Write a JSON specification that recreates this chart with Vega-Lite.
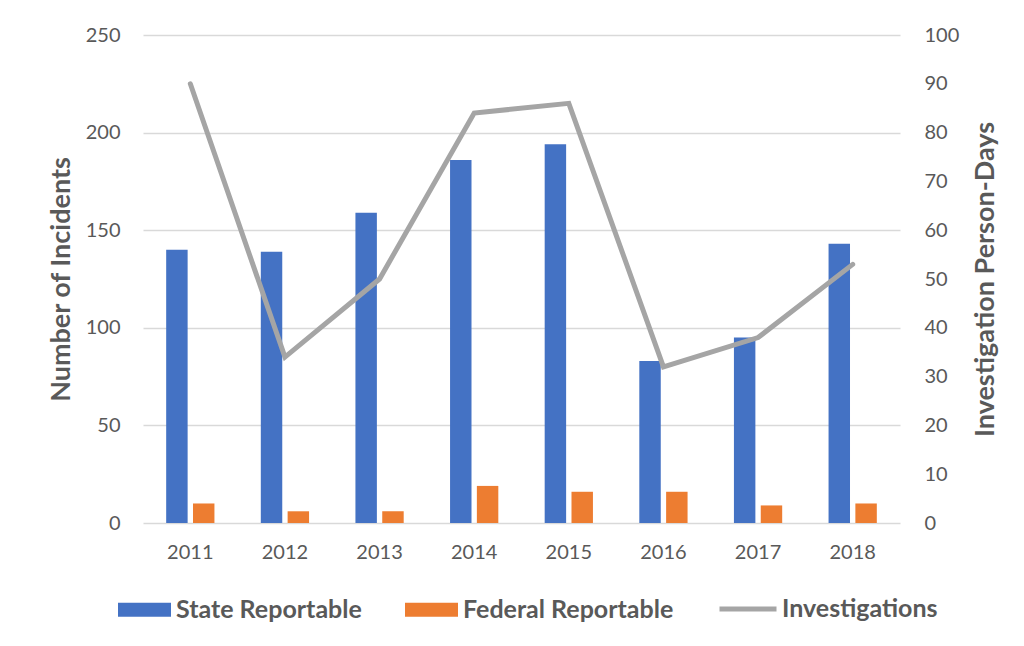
{
  "$schema": "https://vega.github.io/schema/vega-lite/v6.json",
  "autosize": {"type": "none"},
  "width": 757,
  "height": 488,
  "padding": {"left": 143, "top": 35, "right": 124, "bottom": 123},
  "background": "white",
  "config": {
    "font": "Lato",
    "view": {"stroke": null}
  },
  "datasets": {
    "incidents": [
      {"year": "2011", "series": "State Reportable", "count": 140},
      {"year": "2011", "series": "Federal Reportable", "count": 10},
      {"year": "2012", "series": "State Reportable", "count": 139},
      {"year": "2012", "series": "Federal Reportable", "count": 6},
      {"year": "2013", "series": "State Reportable", "count": 159},
      {"year": "2013", "series": "Federal Reportable", "count": 6},
      {"year": "2014", "series": "State Reportable", "count": 186},
      {"year": "2014", "series": "Federal Reportable", "count": 19},
      {"year": "2015", "series": "State Reportable", "count": 194},
      {"year": "2015", "series": "Federal Reportable", "count": 16},
      {"year": "2016", "series": "State Reportable", "count": 83},
      {"year": "2016", "series": "Federal Reportable", "count": 16},
      {"year": "2017", "series": "State Reportable", "count": 95},
      {"year": "2017", "series": "Federal Reportable", "count": 9},
      {"year": "2018", "series": "State Reportable", "count": 143},
      {"year": "2018", "series": "Federal Reportable", "count": 10}
    ],
    "investigations": [
      {"year": "2011", "days": 90},
      {"year": "2012", "days": 34},
      {"year": "2013", "days": 50},
      {"year": "2014", "days": 84},
      {"year": "2015", "days": 86},
      {"year": "2016", "days": 32},
      {"year": "2017", "days": 38},
      {"year": "2018", "days": 53}
    ]
  },
  "layer": [
    {
      "data": {"name": "incidents"},
      "mark": {"type": "bar"},
      "encoding": {
        "x": {
          "field": "year",
          "type": "nominal",
          "sort": "ascending",
          "scale": {"paddingInner": 0.49, "paddingOuter": 0.245},
          "axis": {
            "title": null,
            "domain": false,
            "ticks": false,
            "labelAngle": 0,
            "labelFontSize": 20,
            "labelColor": "#595959",
            "labelPadding": 19
          }
        },
        "xOffset": {
          "field": "series",
          "sort": ["State Reportable", "Federal Reportable"],
          "scale": {"paddingInner": 0.2, "paddingOuter": 0}
        },
        "y": {
          "field": "count",
          "type": "quantitative",
          "scale": {"domain": [0, 250]},
          "axis": {
            "title": "Number of Incidents",
            "titleFontSize": 27,
            "titleFontWeight": "bold",
            "titleColor": "#595959",
            "titlePadding": 10,
            "values": [0, 50, 100, 150, 200, 250],
            "domain": false,
            "ticks": false,
            "labelFontSize": 20,
            "labelColor": "#595959",
            "labelPadding": 23,
            "grid": true,
            "gridColor": "#d9d9d9",
            "gridWidth": 1.5
          }
        },
        "fill": {
          "field": "series",
          "type": "nominal",
          "scale": {
            "domain": ["State Reportable", "Federal Reportable"],
            "range": ["#4472c4", "#ed7d31"]
          },
          "legend": {
            "title": null,
            "orient": "none",
            "direction": "horizontal",
            "legendX": -25,
            "legendY": 548,
            "symbolType": "M-1,-0.264L1,-0.264L1,0.264L-1,0.264Z",
            "symbolSize": 2809,
            "symbolStrokeWidth": 0,
            "symbolOpacity": 1,
            "labelFontSize": 25,
            "labelFontWeight": "bold",
            "labelColor": "#595959",
            "labelOffset": 5,
            "labelLimit": 400,
            "columnPadding": 43
          }
        }
      }
    },
    {
      "data": {"name": "investigations"},
      "mark": {"type": "line", "strokeWidth": 5, "strokeCap": "round", "strokeJoin": "miter"},
      "encoding": {
        "x": {"field": "year", "type": "nominal", "sort": "ascending"},
        "y": {
          "field": "days",
          "type": "quantitative",
          "scale": {"domain": [0, 100]},
          "axis": {
            "orient": "right",
            "title": "Investigation Person-Days",
            "titleAngle": 270,
            "titleFontSize": 27,
            "titleFontWeight": "bold",
            "titleColor": "#595959",
            "titlePadding": 41,
            "values": [0, 10, 20, 30, 40, 50, 60, 70, 80, 90, 100],
            "domain": false,
            "ticks": false,
            "grid": false,
            "labelFontSize": 20,
            "labelColor": "#595959",
            "labelPadding": 24
          }
        },
        "stroke": {
          "datum": "Investigations",
          "type": "nominal",
          "scale": {"domain": ["Investigations"], "range": ["#a5a5a5"]},
          "legend": {
            "title": null,
            "orient": "none",
            "legendX": 574,
            "legendY": 543,
            "symbolType": "stroke",
            "symbolSize": 3249,
            "symbolStrokeWidth": 5,
            "labelFontSize": 25,
            "labelFontWeight": "bold",
            "labelColor": "#595959",
            "labelOffset": 3,
            "labelLimit": 400
          }
        }
      }
    }
  ],
  "resolve": {"scale": {"y": "independent"}}
}
